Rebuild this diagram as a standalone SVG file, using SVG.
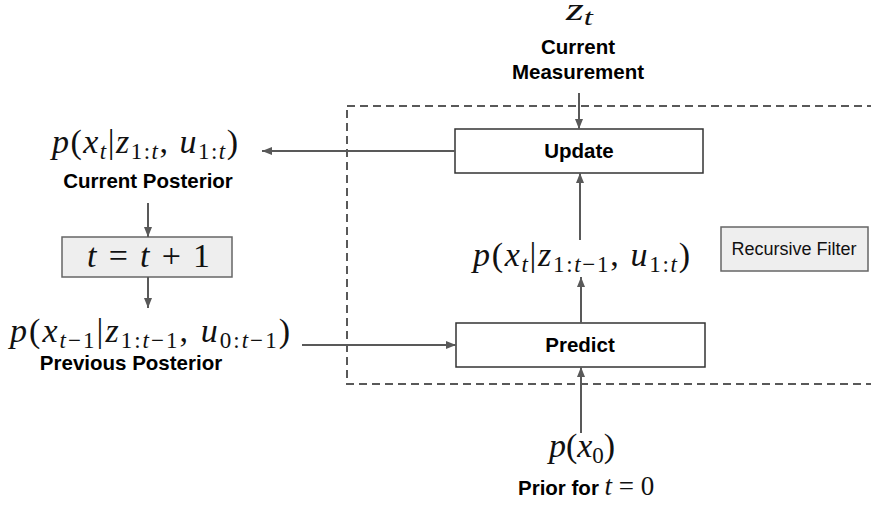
<svg xmlns="http://www.w3.org/2000/svg" width="871" height="506" viewBox="0 0 871 506">
<defs>
<marker id="ah" viewBox="0 0 10 8" refX="10" refY="4" markerWidth="10" markerHeight="8" orient="auto" markerUnits="userSpaceOnUse"><path d="M0,0 L10,4 L0,8 z" fill="#595959"/></marker>
<style>
.lbl{font-family:"Liberation Sans",Arial,sans-serif;font-weight:bold;font-size:20.5px;fill:#000;text-anchor:middle}
.reg{font-family:"Liberation Sans",Arial,sans-serif;font-size:18px;fill:#111;text-anchor:middle}
.m{font-family:"Liberation Serif","Times New Roman",serif;font-size:34px;fill:#111}
.i{font-style:italic}
.s{font-size:23px}
.box{fill:#fff;stroke:#333;stroke-width:1.5}
.gbox{fill:#eeeeee;stroke:#666;stroke-width:1.5}
.conn line{stroke:#595959;stroke-width:2;marker-end:url(#ah)}
.dash{fill:none;stroke:#595959;stroke-width:2;stroke-dasharray:8 5}
</style>
</defs>
<rect class="dash" x="347" y="106" width="560" height="278"/>
<g id="zt"><text class="m" x="566" y="20" style="font-size:32px" textLength="27" lengthAdjust="spacingAndGlyphs"><tspan class="i">z</tspan><tspan class="i s" dy="5">t</tspan></text></g>
<g id="measurement"><text class="lbl" x="578" y="54">Current</text><text class="lbl" x="578" y="79">Measurement</text></g>
<g id="update"><rect class="box" x="455" y="129" width="248" height="44"/><text class="lbl" x="579" y="158">Update</text></g>
<g id="predict"><rect class="box" x="456" y="323" width="249" height="44"/><text class="lbl" x="580" y="352">Predict</text></g>
<g id="recursive"><rect class="gbox" x="721" y="227" width="147" height="44"/><text class="reg" x="794" y="255">Recursive Filter</text></g>
<g id="current-posterior"><text class="m" x="52" y="153" textLength="186" lengthAdjust="spacing"><tspan class="i">p</tspan>(<tspan class="i">x</tspan><tspan class="i s" dy="6">t</tspan><tspan dy="-6">|</tspan><tspan class="i">z</tspan><tspan class="s" dy="6">1:</tspan><tspan class="i s">t</tspan><tspan dy="-6">, </tspan><tspan class="i">u</tspan><tspan class="s" dy="6">1:</tspan><tspan class="i s">t</tspan><tspan dy="-6">)</tspan></text><text class="lbl" x="148" y="188">Current Posterior</text></g>
<g id="increment"><rect class="gbox" x="62" y="237" width="170" height="40"/><text class="m" x="87" y="267" textLength="123" lengthAdjust="spacing"><tspan class="i">t</tspan> = <tspan class="i">t</tspan> + 1</text></g>
<g id="previous-posterior"><text class="m" x="10" y="342" textLength="280" lengthAdjust="spacing"><tspan class="i">p</tspan>(<tspan class="i">x</tspan><tspan class="i s" dy="6">t</tspan><tspan class="s">−1</tspan><tspan dy="-6">|</tspan><tspan class="i">z</tspan><tspan class="s" dy="6">1:</tspan><tspan class="i s">t</tspan><tspan class="s">−1</tspan><tspan dy="-6">, </tspan><tspan class="i">u</tspan><tspan class="s" dy="6">0:</tspan><tspan class="i s">t</tspan><tspan class="s">−1</tspan><tspan dy="-6">)</tspan></text><text class="lbl" x="131" y="370">Previous Posterior</text></g>
<g id="predicted"><text class="m" x="473" y="266" textLength="217" lengthAdjust="spacing"><tspan class="i">p</tspan>(<tspan class="i">x</tspan><tspan class="i s" dy="6">t</tspan><tspan dy="-6">|</tspan><tspan class="i">z</tspan><tspan class="s" dy="6">1:</tspan><tspan class="i s">t</tspan><tspan class="s">−1</tspan><tspan dy="-6">, </tspan><tspan class="i">u</tspan><tspan class="s" dy="6">1:</tspan><tspan class="i s">t</tspan><tspan dy="-6">)</tspan></text></g>
<g id="prior"><text class="m" x="549" y="457" textLength="66" lengthAdjust="spacing"><tspan class="i">p</tspan>(<tspan class="i">x</tspan><tspan class="s" dy="6">0</tspan><tspan dy="-6">)</tspan></text><text x="518" y="495"><tspan class="lbl" style="text-anchor:start">Prior for </tspan><tspan class="m" style="font-size:27px"><tspan class="i">t</tspan> = 0</tspan></text></g>
<g class="conn" id="connectors">
<line x1="455" y1="151" x2="262" y2="151"/>
<line x1="148" y1="203" x2="148" y2="237"/>
<line x1="148" y1="277" x2="148" y2="308"/>
<line x1="302" y1="345" x2="456" y2="345"/>
<line x1="579" y1="93" x2="579" y2="129"/>
<line x1="581" y1="323" x2="581" y2="277"/>
<line x1="580" y1="240" x2="580" y2="173"/>
<line x1="581" y1="433" x2="581" y2="367"/>
</g>
</svg>
